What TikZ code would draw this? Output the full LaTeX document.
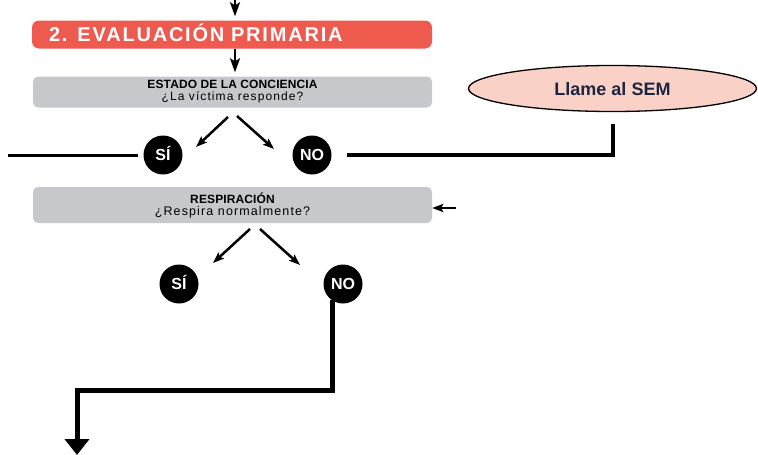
\documentclass[tikz,border=0pt]{standalone}
\usepackage{fontspec}
\setmainfont{Liberation Sans}
\newfontfamily\bannerfont[LetterSpace=9]{Liberation Sans}
\newfontfamily\headfont[LetterSpace=1]{Liberation Sans}
\newfontfamily\askfont[LetterSpace=9]{Liberation Sans}
\usetikzlibrary{positioning, shapes.geometric, arrows.meta}
\definecolor{bannerred}{HTML}{EF5A4F}
\definecolor{boxgray}{HTML}{C6C8CC}
\definecolor{sempink}{HTML}{F9D1C7}
\definecolor{semnavy}{HTML}{1E2540}

\begin{document}
\begin{tikzpicture}[x=1pt, y=-1pt, on grid, line join=miter,
    banner/.style={fill=bannerred, rounded corners=7pt, text width=366pt, align=left, inner xsep=17pt, inner ysep=0pt,
      minimum height=28pt, text=white, text height=14.3pt, text depth=0pt, font=\bannerfont\bfseries\fontsize{20}{20}\selectfont},
    question/.style={fill=boxgray, rounded corners=5pt, minimum width=399pt, minimum height=31pt, inner sep=0pt, align=center},
    answer/.style={circle, fill=black, minimum size=39pt, inner sep=0pt, text=white, text height=11.5pt, text depth=0pt,
      font=\bfseries\fontsize{16}{16}\selectfont},
    call/.style={ellipse, draw=black, line width=1.3pt, fill=sempink, minimum width=288pt, minimum height=46pt, inner sep=0pt,
      text=semnavy, text height=13pt, text depth=0pt, font=\bfseries\fontsize{18}{18}\selectfont},
    feed/.style={-{Stealth[length=14pt, width=10pt, inset=3pt]}, line width=2pt},
    branch/.style={-{Stealth[length=11pt, width=8pt, inset=2pt]}, line width=2.5pt},
    wire/.style={line width=3pt},
    exitwire/.style={-{Triangle[length=16pt, width=24pt]}, line width=5pt}]
  \useasboundingbox (0,0) rectangle (758,455);

  % cajas
  \node[banner] (eval) at (232,34.5) {2. EVALUACIÓN PRIMARIA};
  \node[question] (consc) at (232.5,92) {{\headfont\bfseries\fontsize{12}{16}\selectfont ESTADO DE LA CONCIENCIA}\\[0pt]
    {\askfont\fontsize{12}{16}\selectfont ¿La víctima responde?}};
  \node[question, minimum height=36pt] (breath) at (232.5,205) {{\headfont\bfseries\fontsize{12}{15}\selectfont RESPIRACIÓN}\\[0pt]
    {\askfont\fontsize{12.5}{15}\selectfont ¿Respira normalmente?}};
  \node[call] (sem) at (612.5,88.5) {Llame al SEM};

  % respuestas
  \node[answer] (yes1) at (163,155) {SÍ};
  \node[answer, right=149pt of yes1] (no1) {NO};
  \node[answer] (yes2) at (179,284) {SÍ};
  \node[answer, right=164pt of yes2] (no2) {NO};

  % puntos libres
  \coordinate (feed) at (235,0);
  \coordinate (leftout) at (8,155);
  \coordinate (semfoot) at (613,124);
  \coordinate (back) at (456,208);
  \coordinate (no2-foot) at (332,300);
  \coordinate (bend1) at (332,390);
  \coordinate (bend2) at (77,390);
  \coordinate (exit) at (77,455);
  \coordinate (consc-l) at (228,117);
  \coordinate (consc-r) at (237,116);
  \coordinate (yes1-tip) at (196,147);
  \coordinate (no1-tip) at (274,149);
  \coordinate (breath-l) at (250,229);
  \coordinate (breath-r) at (260,229);
  \coordinate (yes2-tip) at (213,263);
  \coordinate (no2-tip) at (300,265);

  % flechas
  \draw[feed, shorten >=4pt] (feed) -- (feed |- eval.north);
  \draw[feed, shorten >=4pt] (eval.south -| feed) -- (consc.north -| feed);
  \draw[branch] (consc-l) -- (yes1-tip);
  \draw[branch] (consc-r) -- (no1-tip);
  \draw[branch] (breath-l) -- (yes2-tip);
  \draw[branch] (breath-r) -- (no2-tip);
  \draw[wire, shorten >=5pt] (leftout) -- (yes1.west);
  \draw[wire, line width=4pt, shorten <=15pt] (no1.east) -| (semfoot);
  \draw[branch] (back) -- (back -| breath.east);
  \draw[exitwire] (no2-foot) -- (bend1) -- (bend2) -- (exit);
\end{tikzpicture}
\end{document}
